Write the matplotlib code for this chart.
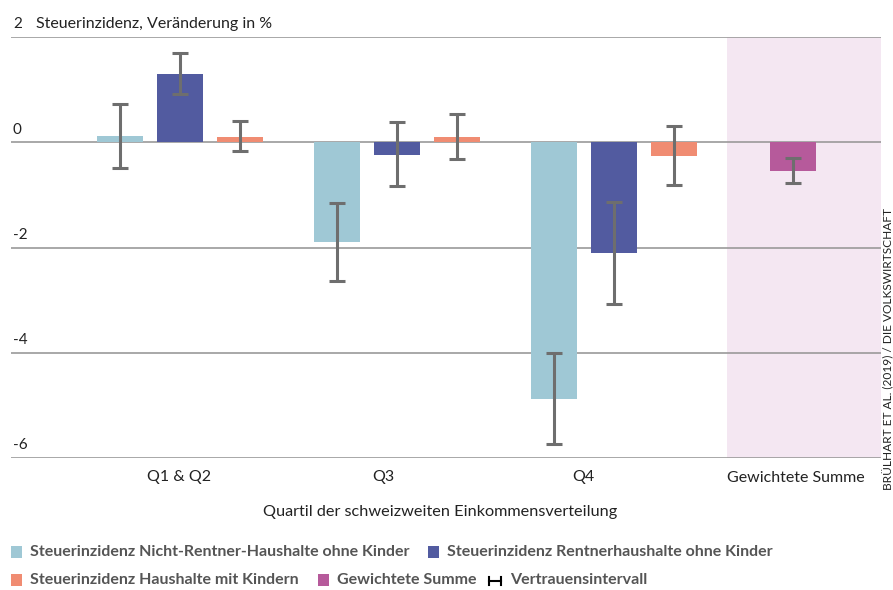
import matplotlib
matplotlib.use("Agg")
import matplotlib.pyplot as plt
from matplotlib.patches import Rectangle
from matplotlib.lines import Line2D
import numpy as np

plt.rcParams['font.family'] = ['Lato', 'DejaVu Sans']

# ---- data ----
groups = ["Q1 & Q2", "Q3", "Q4"]
sum_label = "Gewichtete Summe"
nonret = [0.11, -1.89, -4.87]
nonret_lo = [-0.48, -2.63, -5.74]
nonret_hi = [0.72, -1.16, -4.00]
ret = [1.30, -0.25, -2.11]
ret_lo = [0.91, -0.84, -3.07]
ret_hi = [1.70, 0.38, -1.14]
kids = [0.10, 0.10, -0.26]
kids_lo = [-0.17, -0.32, -0.82]
kids_hi = [0.40, 0.53, 0.31]
wsum = [-0.55]
wsum_lo = [-0.77]
wsum_hi = [-0.30]
yticks = [2, 0, -2, -4, -6]

c_nonret = "#9fc8d5"
c_ret = "#525ba0"
c_kids = "#f08c72"
c_sum = "#b65a9b"
c_err = "#6e6e6e"
c_shade = "#f4e7f2"
c_grid = "#9a9a9a"
c_text = "#222222"
c_leg = "#555555"

W, H = 893, 590
fig = plt.figure(figsize=(W / 100, H / 100), dpi=100)
ax = fig.add_axes([11 / W, 1 - 458 / H, (881 - 11) / W, (458 - 37) / H])
ax.set_xlim(-0.7788, 3.2304)
ax.set_ylim(-6, 2)
for s in ax.spines.values():
    s.set_visible(False)
ax.set_yticks([])
ax.tick_params(axis='x', length=0, pad=9, labelsize=11.5, colors=c_text)

# shaded area for weighted sum
ax.axvspan(2.521, 3.2304, color=c_shade, zorder=0, lw=0)

for yv in yticks:
    ax.axhline(yv, color=c_grid, lw=1.2, zorder=1)
    ax.text(-0.77, yv + 0.24, str(yv), fontsize=11, color=c_text, va='center', ha='left')

ax.text(-0.662, 2.24, "Steuerinzidenz, Veränderung in %", fontsize=11.5,
        color=c_text, va='center', ha='left')

x = np.arange(len(groups))
off = 0.2765
bw = 0.212
ekw = dict(fmt='none', ecolor=c_err, elinewidth=2.2, capsize=5.5, capthick=2.2, zorder=4)

def draw(xpos, vals, lo, hi, color):
    vals = np.array(vals); lo = np.array(lo); hi = np.array(hi)
    ax.bar(xpos, vals, width=bw, color=color, zorder=2, lw=0)
    ax.errorbar(xpos, vals, yerr=[vals - lo, hi - vals], **ekw)

draw(x - off, nonret, nonret_lo, nonret_hi, c_nonret)
draw(x, ret, ret_lo, ret_hi, c_ret)
draw(x + off, kids, kids_lo, kids_hi, c_kids)
draw(np.array([2.825]), wsum, wsum_lo, wsum_hi, c_sum)

ax.set_xticks([-0.005, 0.935, 1.857, 2.839])
ax.set_xticklabels(groups + [sum_label])

fig.text(440 / W, 1 - 512 / H, "Quartil der schweizweiten Einkommensverteilung",
         ha='center', va='center', fontsize=11.7, color=c_text)

fig.text(888 / W, 1 - 490 / H, "BRÜLHART ET AL. (2019) / DIE VOLKSWIRTSCHAFT",
         rotation=90, ha='center', va='bottom', fontsize=8.6, color=c_text)

# legend (manual)
def leg_patch(px, py, color, label):
    fig.patches.append(Rectangle((px / W, 1 - (py + 6) / H), 11 / W, 12 / H,
                                 transform=fig.transFigure, color=color, lw=0))
    fig.text((px + 19) / W, 1 - py / H, label, ha='left', va='center',
             fontsize=11.5, fontweight='bold', color=c_leg)

leg_patch(11, 552, c_nonret, "Steuerinzidenz Nicht-Rentner-Haushalte ohne Kinder")
leg_patch(428, 552, c_ret, "Steuerinzidenz Rentnerhaushalte ohne Kinder")
leg_patch(11, 580, c_kids, "Steuerinzidenz Haushalte mit Kindern")
leg_patch(318, 580, c_sum, "Gewichtete Summe")
# errorbar glyph
gy = 1 - 581 / H
fig.lines.append(Line2D([489 / W, 501 / W], [gy, gy], transform=fig.transFigure, color='black', lw=1.5))
for gx in (489, 501):
    fig.lines.append(Line2D([gx / W, gx / W], [gy - 4 / H, gy + 4 / H], transform=fig.transFigure, color='black', lw=1.5))
fig.text(510 / W, 1 - 580 / H, "Vertrauensintervall", ha='left', va='center',
         fontsize=11.5, fontweight='bold', color=c_leg)

fig.savefig("out.png", dpi=100)
